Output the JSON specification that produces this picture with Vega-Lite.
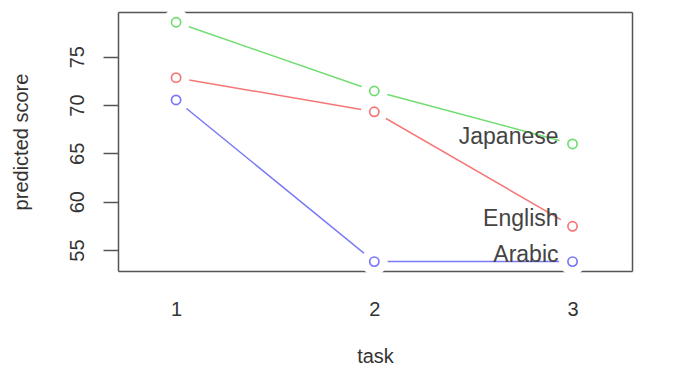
{
  "$schema": "https://vega.github.io/schema/vega-lite/v6.json",
  "autosize": {"type": "none"},
  "padding": {"left": 118, "top": 12, "right": 44, "bottom": 98},
  "width": 514,
  "height": 259,
  "background": "white",
  "config": {
    "view": {"stroke": null},
    "font": "Liberation Sans",
    "axis": {"labelFont": "Liberation Sans", "titleFont": "Liberation Sans", "labelColor": "#333", "titleColor": "#333", "titleFontWeight": "normal", "grid": false, "zindex": 1, "domainColor": "#555", "domainWidth": 1.5}
  },
  "data": {"values": [
    {"task": 1, "score": 78.56, "lang": "Japanese"},
    {"task": 2, "score": 71.45, "lang": "Japanese"},
    {"task": 3, "score": 65.97, "lang": "Japanese"},
    {"task": 1, "score": 72.83, "lang": "English"},
    {"task": 2, "score": 69.3, "lang": "English"},
    {"task": 3, "score": 57.45, "lang": "English"},
    {"task": 1, "score": 70.52, "lang": "Arabic"},
    {"task": 2, "score": 53.8, "lang": "Arabic"},
    {"task": 3, "score": 53.8, "lang": "Arabic"}
  ]},
  "resolve": {"axis": {"x": "independent", "y": "independent"}},
  "layer": [
    {
      "mark": {"type": "line", "strokeWidth": 1.5},
      "encoding": {
        "x": {"field": "task", "type": "quantitative", "scale": {"domain": [0.707, 3.3], "nice": false, "zero": false},
              "axis": {"orient": "bottom", "values": [1, 2, 3], "ticks": false, "tickSize": 0, "labelPadding": 28, "labelFontSize": 20, "title": "task", "titleFontSize": 20, "titlePadding": 27, "domain": true}},
        "y": {"field": "score", "type": "quantitative", "scale": {"domain": [52.83, 79.62], "nice": false, "zero": false},
              "axis": {"orient": "left", "values": [55, 60, 65, 70, 75], "tickSize": 15, "tickColor": "#555", "tickWidth": 1.5, "labelAngle": -90, "labelAlign": "center", "labelBaseline": "bottom", "labelPadding": 16, "labelFontSize": 20, "title": "predicted score", "titleFontSize": 20, "titlePadding": 36, "domain": true}},
        "color": {"field": "lang", "type": "nominal", "scale": {"domain": ["Arabic", "English", "Japanese"], "range": ["#7878F8", "#F57676", "#70DD70"]}, "legend": null}
      }
    },
    {
      "mark": {"type": "circle", "fill": "white", "fillOpacity": 1, "opacity": 1, "size": 720},
      "encoding": {
        "x": {"field": "task", "type": "quantitative", "axis": {"orient": "top", "labels": false, "ticks": false, "title": null, "domain": true}},
        "y": {"field": "score", "type": "quantitative", "axis": {"orient": "right", "labels": false, "ticks": false, "title": null, "domain": true}}
      }
    },
    {
      "transform": [{"filter": "datum.task == 3"}],
      "mark": {"type": "text", "align": "right", "baseline": "middle", "dx": -14, "dy": -7, "fontSize": 23, "color": "#444"},
      "encoding": {
        "x": {"field": "task", "type": "quantitative", "axis": null},
        "y": {"field": "score", "type": "quantitative", "axis": null},
        "text": {"field": "lang"}
      }
    },
    {
      "mark": {"type": "point", "shape": "circle", "filled": false, "opacity": 1, "size": 85, "strokeWidth": 1.7},
      "encoding": {
        "x": {"field": "task", "type": "quantitative", "axis": null},
        "y": {"field": "score", "type": "quantitative", "axis": null},
        "color": {"field": "lang", "type": "nominal", "legend": null}
      }
    }
  ]
}
